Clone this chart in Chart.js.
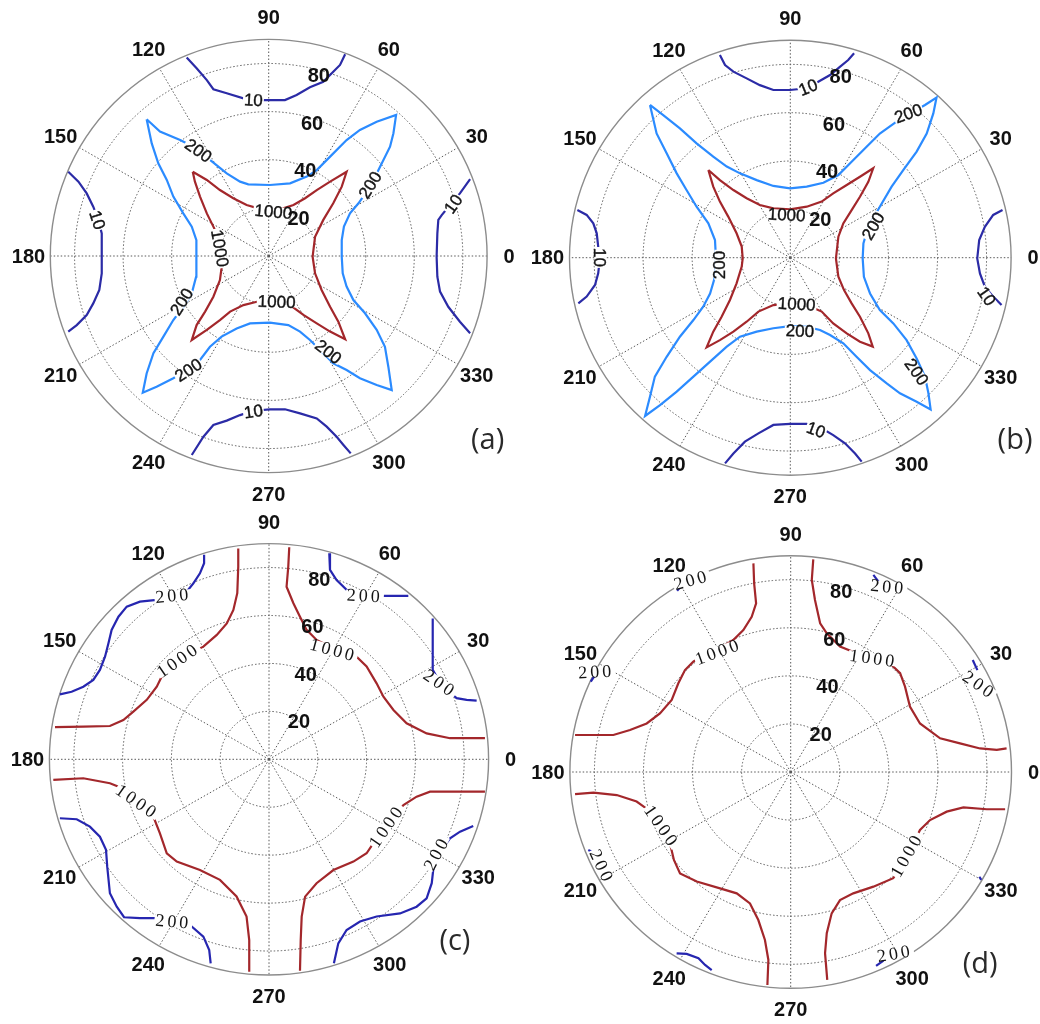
<!DOCTYPE html>
<html>
<head>
<meta charset="utf-8">
<script src="https://cdn.jsdelivr.net/npm/chart.js@4/dist/chart.umd.min.js"></script>
<style>
  html, body { margin: 0; padding: 0; background: #fff; }
  body { width: 1040px; height: 1024px; position: relative; overflow: hidden; }
  .panel { position: absolute; }
</style>
</head>
<body>
<div class="panel" id="boxA" style="left:0px;top:0px;width:540px;height:515px;"><canvas id="chartA"></canvas></div>
<div class="panel" id="boxB" style="left:520px;top:0px;width:520px;height:515px;"><canvas id="chartB"></canvas></div>
<div class="panel" id="boxC" style="left:0px;top:490px;width:540px;height:534px;"><canvas id="chartC"></canvas></div>
<div class="panel" id="boxD" style="left:520px;top:490px;width:520px;height:534px;"><canvas id="chartD"></canvas></div>
<script>
// Polar axis: radius 0..90, spokes every 30 degrees
const R_MAX = 90;
const angleTicks = [0, 30, 60, 90, 120, 150, 180, 210, 240, 270, 300, 330];
const radialTicks = [20, 40, 60, 80];
const levels = [10, 200, 1000];

// Contour vertices, [x, y] in radius units (x = r cos t, y = r sin t)
// ---- (a) ----
const a10Top = [[-33.8,82.5],[-29.7,78.0],[-25.5,73.1],[-22.8,69.3],[-17.3,67.6],[-10.4,65.5],[-6.3,64.8],[0.5,64.8],[6.7,64.8],[11.5,66.9],[17.0,70.1],[22.5,72.4],[26.6,76.6],[29.4,79.4],[31.5,83.8]];
const a10Bottom = [[-31.7,-82.7],[-26.9,-75.1],[-22.8,-70.2],[-17.3,-68.4],[-11.8,-66.1],[-6.3,-64.3],[0.5,-63.7],[6.7,-63.7],[12.9,-65.4],[19.8,-67.5],[23.9,-70.9],[28.0,-75.1],[30.8,-78.5],[33.8,-82.0]];
const a10Left = [[-82.6,35.0],[-78.4,30.9],[-75.0,26.0],[-72.3,20.5],[-70.2,15.0],[-68.8,9.4],[-68.8,-0.3],[-68.8,-7.2],[-69.8,-14.1],[-72.3,-19.7],[-75.0,-24.5],[-79.1,-28.7],[-82.6,-31.4]];
const a10Right = [[83.0,31.9],[78.8,26.0],[74.7,21.2],[71.3,17.0],[69.9,15.0],[69.5,9.4],[69.2,-0.3],[69.5,-8.6],[70.6,-14.8],[74.0,-21.1],[78.8,-27.3],[83.0,-32.1]];
const a200 = [[-50.3,56.8],[-44.8,51.7],[-36.5,48.2],[-29.7,44.7],[-24.2,39.9],[-17.3,34.3],[-11.8,30.9],[-8.4,29.8],[0.5,29.5],[8.8,30.2],[15.7,33.0],[19.8,35.7],[25.3,41.3],[32.1,48.2],[37.6,52.4],[44.5,55.8],[52.5,58.6],
  [51.4,51.0],[50.0,45.4],[45.9,37.1],[41.8,28.8],[37.0,21.9],[33.5,17.7],[31.0,12.2],[30.1,6.6],[30.1,-0.3],[30.5,-7.2],[32.1,-12.7],[34.9,-18.3],[39.7,-23.8],[44.5,-30.7],[47.9,-37.7],[49.3,-46.0],[50.7,-55.7],
  [44.5,-53.6],[37.6,-50.8],[32.1,-47.4],[26.6,-44.6],[22.5,-40.4],[17.0,-34.9],[12.9,-31.4],[8.1,-28.7],[0.5,-27.7],[-7.7,-28.0],[-13.2,-30.1],[-19.4,-33.5],[-24.2,-37.7],[-28.3,-43.2],[-33.8,-47.4],[-39.3,-50.8],[-46.2,-54.3],[-51.9,-56.8],
  [-50.3,-48.8],[-47.5,-40.4],[-43.4,-33.5],[-39.3,-26.6],[-35.2,-21.1],[-31.7,-15.5],[-29.9,-8.6],[-29.7,-0.3],[-29.9,6.6],[-31.7,12.2],[-35.2,17.7],[-39.3,24.7],[-42.0,31.6],[-45.5,38.5],[-48.2,46.8],[-50.3,56.8]];
const a1000 = [[-31.3,35.0],[-25.5,31.6],[-20.1,27.4],[-14.6,24.0],[-9.1,21.2],[-4.3,19.8],[0.5,19.4],[6.0,19.8],[10.2,21.2],[15.0,24.0],[19.8,27.4],[25.3,30.9],[32.1,35.0],
  [30.1,28.8],[26.6,21.9],[22.5,15.0],[19.1,8.0],[18.1,-0.3],[19.1,-7.2],[21.8,-14.1],[25.3,-21.1],[28.7,-27.3],[31.5,-34.6],
  [25.3,-31.4],[19.8,-28.0],[14.3,-24.5],[8.8,-20.4],[1.9,-19.0],[-4.9,-19.0],[-10.4,-20.4],[-15.9,-23.1],[-20.1,-26.6],[-25.5,-30.7],[-31.7,-34.9],
  [-29.7,-28.7],[-26.2,-23.1],[-22.8,-16.9],[-20.1,-10.0],[-19.0,-1.7],[-20.1,6.6],[-22.8,12.2],[-25.5,17.7],[-28.3,24.7],[-30.4,30.9],[-31.3,35.0]];
// inline contour labels: [level, x, y, rotation in degrees]
const aLabels = [[10,-6.3,64.8,3],[10,-70.6,15.0,72],[10,76.1,21.6,-55],[10,-6.3,-64.6,-8],
  [200,-29.0,43.8,35],[200,41.8,29.5,-58],[200,-35.9,-19.0,-58],[200,-33.1,-47.4,-33],[200,24.6,-39.8,38],
  [1000,1.9,18.4,5],[1000,-20.1,3.2,80],[1000,3.3,-19.0,2]];

// ---- (b) ----
const b10Top = [[-28.7,83.9],[-26.6,79.7],[-23.2,77.0],[-17.8,74.2],[-12.4,71.4],[-6.9,69.4],[-0.1,69.4],[6.7,70.1],[11.4,72.8],[16.2,75.6],[20.2,79.0],[23.6,81.8],[26.0,84.6]];
const b10Bottom = [[-26.6,-85.1],[-23.2,-81.0],[-18.5,-76.1],[-13.0,-72.7],[-6.9,-69.2],[-0.1,-68.8],[6.7,-68.8],[12.8,-70.6],[17.5,-73.4],[22.3,-76.8],[26.4,-81.0],[29.1,-84.4]];
const b10Left = [[-86.8,19.7],[-83.0,17.7],[-80.3,14.2],[-78.9,10.1],[-78.3,4.6],[-77.6,-0.3],[-78.3,-6.5],[-79.6,-11.3],[-83.0,-16.1],[-86.4,-18.9]];
const b10Right = [[86.5,19.7],[82.7,17.7],[79.3,12.8],[77.0,7.3],[76.2,-0.3],[77.3,-6.5],[79.3,-12.0],[82.7,-16.1],[86.1,-19.6]];
const b200 = [[-57.2,63.2],[-51.8,59.0],[-45.0,53.5],[-38.2,47.3],[-31.4,41.8],[-25.9,37.7],[-20.5,34.9],[-13.7,32.1],[-6.9,29.7],[-0.1,28.7],[6.7,29.4],[13.5,31.0],[19.6,34.2],[25.7,40.4],[31.1,45.9],[36.5,51.4],[43.3,56.3],[50.1,60.4],[54.9,63.2],[59.6,66.3],
  [58.3,59.7],[55.6,51.4],[51.5,43.9],[46.1,36.3],[41.3,29.4],[36.5,21.1],[31.8,12.8],[29.8,5.9],[29.5,-0.3],[30.0,-7.9],[32.5,-14.8],[36.5,-21.7],[42.0,-27.2],[47.4,-34.1],[51.5,-41.7],[54.9,-49.2],[56.3,-56.1],[57.2,-62.8],
  [51.5,-59.6],[44.7,-56.1],[39.3,-52.0],[32.5,-46.5],[27.0,-41.0],[21.6,-35.4],[16.2,-32.0],[12.1,-29.9],[6.7,-28.6],[-0.1,-28.3],[-6.9,-29.2],[-13.7,-30.6],[-20.5,-32.7],[-25.9,-36.8],[-32.7,-43.0],[-39.5,-49.2],[-46.3,-55.4],[-53.1,-61.0],[-59.2,-65.5],
  [-57.2,-57.5],[-55.2,-49.2],[-50.4,-41.0],[-45.0,-32.7],[-39.5,-25.8],[-35.5,-20.3],[-32.7,-14.8],[-30.7,-7.9],[-30.3,-0.3],[-30.7,7.3],[-33.4,14.2],[-38.2,21.1],[-42.3,28.0],[-46.3,34.9],[-50.4,43.2],[-54.5,51.4],[-57.2,63.2]];
const b1000 = [[-33.4,36.3],[-28.7,32.1],[-23.2,28.0],[-17.8,24.6],[-12.4,21.8],[-6.9,20.4],[-0.1,20.0],[6.7,21.1],[12.8,23.2],[17.5,26.6],[23.0,30.1],[28.4,33.5],[33.8,37.0],
  [31.8,31.4],[28.4,25.2],[25.0,19.7],[21.6,14.2],[19.6,8.7],[18.6,-0.3],[19.6,-7.9],[21.9,-13.4],[25.0,-18.9],[28.4,-24.4],[31.8,-31.3],[33.6,-36.8],
  [28.4,-34.8],[23.0,-31.3],[17.5,-27.2],[12.8,-22.3],[6.7,-19.6],[-0.1,-18.9],[-6.9,-19.6],[-13.0,-22.3],[-17.8,-26.5],[-23.2,-30.6],[-28.7,-34.1],[-34.1,-37.1],
  [-31.4,-30.6],[-28.0,-24.4],[-24.6,-17.5],[-21.9,-10.6],[-19.8,-3.7],[-19.4,-0.3],[-19.8,4.6],[-21.9,10.1],[-25.3,17.0],[-28.7,23.2],[-31.4,29.4],[-33.4,36.3]];
const bLabels = [[10,7.3,70.5,-22],[10,-77.6,0.1,90],[10,80.0,-15.9,55],[10,10.5,-71.3,20],
  [200,48.1,59.7,-20],[200,33.8,13.1,-60],[200,-28.9,-3.0,-90],[200,3.9,-30.3,2],[200,51.5,-47.2,55],
  [1000,-1.5,17.7,3],[1000,2.6,-19.2,3]];

// ---- (c) ----
const c1000TopLeft = [[-12.6,88.0],[-12.6,80.4],[-13.0,69.3],[-14.6,62.3],[-17.3,56.7],[-21.4,51.9],[-26.9,47.0],[-32.4,44.2],[-37.8,41.4],[-43.3,35.9],[-46.0,30.3],[-50.1,24.8],[-55.6,19.9],[-59.7,16.4],[-65.2,13.9],[-76.1,13.6],[-87.7,13.4]];
const c1000TopRight = [[8.3,88.5],[7.9,80.4],[7.2,72.0],[10.0,65.1],[12.7,59.5],[15.4,54.0],[19.5,49.8],[27.7,45.6],[35.9,42.8],[40.0,38.7],[44.1,31.7],[46.9,26.1],[51.0,20.6],[56.4,15.0],[64.6,10.8],[74.2,8.8],[88.5,8.8]];
const c1000BottomLeft = [[-88.4,-8.6],[-76.1,-7.9],[-65.2,-10.0],[-58.3,-12.8],[-52.9,-17.0],[-47.4,-23.9],[-44.7,-30.9],[-41.9,-39.2],[-37.8,-42.7],[-28.3,-46.2],[-20.1,-50.3],[-13.3,-57.2],[-9.2,-65.6],[-8.1,-75.4],[-8.1,-88.6]];
const c1000BottomRight = [[88.5,-13.5],[76.9,-13.5],[66.0,-13.5],[60.5,-15.6],[55.1,-19.1],[48.2,-27.4],[42.8,-35.0],[40.0,-39.2],[34.6,-42.7],[26.4,-46.2],[19.5,-51.7],[14.8,-57.3],[13.4,-65.6],[13.0,-75.4],[12.7,-88.2]];
const c200TopLeft = [[-26.6,85.3],[-26.6,81.8],[-28.3,77.6],[-31.0,73.4],[-33.7,70.0],[-39.2,67.9],[-46.0,66.5],[-52.9,65.8],[-58.3,63.7],[-61.7,59.5],[-64.5,54.0],[-65.8,48.4],[-67.2,42.8],[-69.3,37.3],[-72.0,33.1],[-76.1,30.3],[-80.9,28.2],[-85.7,27.1]];
const c200TopRight = [[24.7,86.0],[25.0,79.0],[27.7,74.8],[31.8,70.7],[38.7,68.6],[46.9,68.2],[57.1,68.2]];
const c200RightUpper = [[67.1,58.8],[67.1,49.8],[67.1,42.8],[67.1,37.3],[68.7,34.5],[72.8,28.9],[76.9,25.5],[81.0,24.8],[85.1,24.5]];
const c200BottomLeft = [[-85.7,-24.6],[-78.8,-25.0],[-73.4,-28.1],[-69.3,-32.3],[-66.8,-37.8],[-66.3,-44.8],[-65.2,-55.9],[-62.4,-61.5],[-59.4,-65.9],[-52.9,-66.3],[-46.0,-66.3],[-39.2,-67.3],[-32.4,-69.1],[-26.9,-74.0],[-24.5,-79.6],[-23.9,-85.1]];
const c200BottomRight = [[83.7,-27.8],[78.3,-30.2],[74.2,-33.0],[69.4,-39.5],[67.3,-46.2],[66.7,-51.7],[64.6,-58.0],[60.5,-61.5],[53.7,-64.3],[44.1,-65.6],[37.3,-67.7],[31.8,-71.2],[28.4,-76.8],[26.6,-85.1]];
const cLabels = [[200,-39.2,68.3,-5],[1000,-37.2,41.4,-35],[200,39.3,68.3,3],[1000,26.4,45.6,15],[200,70.1,31.7,35],
  [1000,-54.0,-17.7,35],[200,-39.2,-67.7,5],[1000,48.2,-27.8,-55],[200,68.7,-39.2,-62]];

// ---- (d) ----
const d1000TopLeft = [[-15.2,86.8],[-14.9,78.5],[-14.1,70.2],[-15.9,64.6],[-19.3,59.1],[-23.4,54.9],[-28.8,51.5],[-34.2,49.4],[-39.7,45.9],[-43.1,42.4],[-45.8,36.9],[-48.5,30.0],[-53.3,24.4],[-58.7,20.2],[-65.5,17.5],[-72.3,15.4],[-79.1,15.4],[-87.9,15.4]];
const d1000TopRight = [[9.2,88.5],[8.6,79.9],[9.9,71.6],[12.0,61.9],[14.7,57.7],[20.1,52.2],[26.9,49.4],[33.7,47.3],[40.5,45.2],[44.6,41.1],[46.6,35.5],[48.6,27.2],[52.7,20.2],[60.9,14.0],[69.0,11.9],[77.2,9.8],[84.0,9.2],[88.0,9.8]];
const d1000BottomLeft = [[-87.9,-9.2],[-80.4,-8.6],[-70.9,-9.6],[-62.8,-12.3],[-58.0,-15.8],[-53.3,-22.1],[-49.2,-29.7],[-47.6,-36.6],[-45.1,-42.2],[-38.3,-45.6],[-28.8,-48.4],[-22.0,-50.5],[-16.6,-54.7],[-13.2,-61.6],[-10.5,-69.9],[-9.1,-78.2],[-9.5,-88.6]];
const d1000BottomRight = [[87.4,-15.5],[79.9,-15.5],[70.4,-14.7],[63.6,-16.5],[56.8,-20.0],[52.7,-24.1],[50.0,-29.7],[45.9,-38.0],[41.8,-44.2],[33.7,-47.7],[25.5,-50.5],[20.1,-53.3],[16.7,-58.8],[14.7,-67.1],[14.0,-75.4],[14.9,-86.5]];
const d200Pieces = [
  [[33.7,82.0],[36.1,78.8]],
  [[-46.3,75.4],[-44.6,77.5]],
  [[-81.5,37.6],[-78.4,42.4]],
  [[74.2,46.6],[76.1,42.4]],
  [[-82.5,-32.5],[-79.1,-34.1]],
  [[76.9,-43.6],[77.7,-44.9]],
  [[-46.5,-75.5],[-42.4,-75.7],[-37.6,-77.5],[-34.9,-80.3],[-32.2,-82.4]],
  [[34.8,-80.7],[37.8,-78.5]]
];
const dLabels = [[200,39.8,77.1,5],[200,-40.4,79.9,-15],[200,-79.3,41.7,-3],[200,76.9,36.2,35],[200,-77.0,-39.4,65],[200,42.5,-75.5,-10],
  [1000,-29.5,50.1,-20],[1000,33.7,47.3,8],[1000,-52.6,-22.7,55],[1000,47.3,-34.5,-60]];

// line colours per level
const colorsTop = {10: '#2b2ba6', 200: '#2b8bff', 1000: '#a3272b'};
const colorsBottom = {200: '#2626b0', 1000: '#a3272b'};

const DEG = Math.PI / 180;

// Draws the polar frame (rings, spokes, outer circle) behind the contours
// and all text (tick labels, contour labels, panel tag) above them.
const polarFrame = {
  id: 'polarFrame',
  beforeDatasetsDraw(chart) {
    const {ctx, scales: {x, y}} = chart;
    const cx = x.getPixelForValue(0), cy = y.getPixelForValue(0);
    ctx.save();
    ctx.strokeStyle = '#5a5a5a';
    ctx.lineWidth = 1;
    ctx.setLineDash([1.5, 2]);
    radialTicks.forEach(v => {
      ctx.beginPath();
      ctx.ellipse(cx, cy, x.getPixelForValue(v) - cx, cy - y.getPixelForValue(v), 0, 0, 2 * Math.PI);
      ctx.stroke();
    });
    angleTicks.forEach(a => {
      ctx.beginPath();
      ctx.moveTo(cx, cy);
      ctx.lineTo(x.getPixelForValue(R_MAX * Math.cos(a * DEG)), y.getPixelForValue(R_MAX * Math.sin(a * DEG)));
      ctx.stroke();
    });
    ctx.setLineDash([]);
    ctx.strokeStyle = '#8c8c8c';
    ctx.lineWidth = 1.4;
    ctx.beginPath();
    ctx.ellipse(cx, cy, x.getPixelForValue(R_MAX) - cx, cy - y.getPixelForValue(R_MAX), 0, 0, 2 * Math.PI);
    ctx.stroke();
    ctx.restore();
  },
  afterDatasetsDraw(chart, args, opts) {
    const {ctx, scales: {x, y}} = chart;
    ctx.save();
    // contour level labels, with a gap cut into the line
    ctx.font = opts.labelFont;
    ctx.letterSpacing = opts.labelSpacing || '0px';
    ctx.textAlign = 'center';
    ctx.textBaseline = 'middle';
    opts.labels.forEach(([lev, lx, ly, rot]) => {
      const txt = String(lev);
      const w = ctx.measureText(txt).width;
      ctx.save();
      ctx.translate(x.getPixelForValue(lx), y.getPixelForValue(ly));
      ctx.rotate(rot * DEG);
      ctx.fillStyle = '#ffffff';
      ctx.fillRect(-w / 2 - 1, -5, w + 2, 10);
      ctx.fillStyle = '#141414';
      ctx.fillText(txt, 0, 1);
      if (opts.labelStroke) {
        ctx.strokeStyle = '#141414';
        ctx.lineWidth = opts.labelStroke;
        ctx.strokeText(txt, 0, 1);
      }
      ctx.restore();
    });
    ctx.letterSpacing = '0px';
    // angle labels
    ctx.fillStyle = '#111';
    ctx.font = 'bold 20px "Liberation Sans", Arial, sans-serif';
    ctx.textAlign = 'center';
    ctx.textBaseline = 'middle';
    angleTicks.forEach(a => {
      const r = 1.1 * R_MAX;
      ctx.fillText(String(a), x.getPixelForValue(r * Math.cos(a * DEG)), y.getPixelForValue(r * Math.sin(a * DEG)) + 1);
    });
    // radius labels along the 82 degree line
    ctx.textAlign = 'left';
    radialTicks.forEach(v => {
      ctx.fillText(String(v), x.getPixelForValue(v * Math.cos(82 * DEG)) + 12, y.getPixelForValue(v * Math.sin(82 * DEG)) + 11);
    });
    // panel tag
    ctx.font = '29px "Open Sans", "Noto Sans", sans-serif';
    ctx.fillStyle = '#2a2a2a';
    ctx.textAlign = 'center';
    ctx.fillText(opts.tag, x.getPixelForValue(opts.tagAt[0]), y.getPixelForValue(opts.tagAt[1]));
    ctx.restore();
  }
};

function lineSet(pts, level, colors) {
  return {
    label: String(level),
    data: pts.map(([px, py]) => ({x: px, y: py})),
    showLine: true,
    borderColor: colors[level],
    borderWidth: 2.2,
    pointRadius: 0,
    fill: false,
    tension: 0
  };
}

// geo: canvas box and circle centre / radii in page pixels
function makePanel(id, geo, datasets, frame) {
  const sx = geo.rx / R_MAX, sy = geo.ry / R_MAX;
  const lx = geo.cx - geo.left, ly = geo.cy - geo.top;
  return new Chart(document.getElementById(id), {
    type: 'scatter',
    data: {datasets},
    options: {
      responsive: true,
      maintainAspectRatio: false,
      animation: false,
      events: [],
      layout: {padding: 0},
      scales: {
        x: {type: 'linear', display: false, min: -lx / sx, max: (geo.w - lx) / sx},
        y: {type: 'linear', display: false, min: -(geo.h - ly) / sy, max: ly / sy}
      },
      plugins: {legend: {display: false}, tooltip: {enabled: false}, polarFrame: frame}
    },
    plugins: [polarFrame]
  });
}

const sansLabel = '17px "Liberation Sans", Arial, sans-serif';
const serifLabel = '18px "Liberation Serif", "Times New Roman", serif';

makePanel('chartA', {left: 0, top: 0, w: 540, h: 515, cx: 268.7, cy: 256, rx: 218.4, ry: 216.6}, [
  lineSet(a10Top, 10, colorsTop), lineSet(a10Bottom, 10, colorsTop),
  lineSet(a10Left, 10, colorsTop), lineSet(a10Right, 10, colorsTop),
  lineSet(a200, 200, colorsTop), lineSet(a1000, 1000, colorsTop)
], {labels: aLabels, labelFont: sansLabel, labelStroke: 0.4, tag: '(a)', tagAt: [90.2, -76.7]});

makePanel('chartB', {left: 520, top: 0, w: 520, h: 515, cx: 790.3, cy: 257.7, rx: 220.8, ry: 217.5}, [
  lineSet(b10Top, 10, colorsTop), lineSet(b10Bottom, 10, colorsTop),
  lineSet(b10Left, 10, colorsTop), lineSet(b10Right, 10, colorsTop),
  lineSet(b200, 200, colorsTop), lineSet(b1000, 1000, colorsTop)
], {labels: bLabels, labelFont: sansLabel, labelStroke: 0.4, tag: '(b)', tagAt: [91.6, -75.8]});

makePanel('chartC', {left: 0, top: 490, w: 540, h: 534, cx: 269, cy: 759.3, rx: 219.6, ry: 215.7}, [
  lineSet(c1000TopLeft, 1000, colorsBottom), lineSet(c1000TopRight, 1000, colorsBottom),
  lineSet(c1000BottomLeft, 1000, colorsBottom), lineSet(c1000BottomRight, 1000, colorsBottom),
  lineSet(c200TopLeft, 200, colorsBottom), lineSet(c200TopRight, 200, colorsBottom),
  lineSet(c200RightUpper, 200, colorsBottom), lineSet(c200BottomLeft, 200, colorsBottom),
  lineSet(c200BottomRight, 200, colorsBottom)
], {labels: cLabels, labelFont: serifLabel, labelSpacing: '3px', tag: '(c)', tagAt: [76.2, -76.2]});

makePanel('chartD', {left: 520, top: 490, w: 520, h: 534, cx: 790.7, cy: 772, rx: 220.8, ry: 216.3}, [
  lineSet(d1000TopLeft, 1000, colorsBottom), lineSet(d1000TopRight, 1000, colorsBottom),
  lineSet(d1000BottomLeft, 1000, colorsBottom), lineSet(d1000BottomRight, 1000, colorsBottom),
  ...d200Pieces.map(p => lineSet(p, 200, colorsBottom))
], {labels: dLabels, labelFont: serifLabel, labelSpacing: '3px', tag: '(d)', tagAt: [77.2, -80.3]});
</script>
</body>
</html>
